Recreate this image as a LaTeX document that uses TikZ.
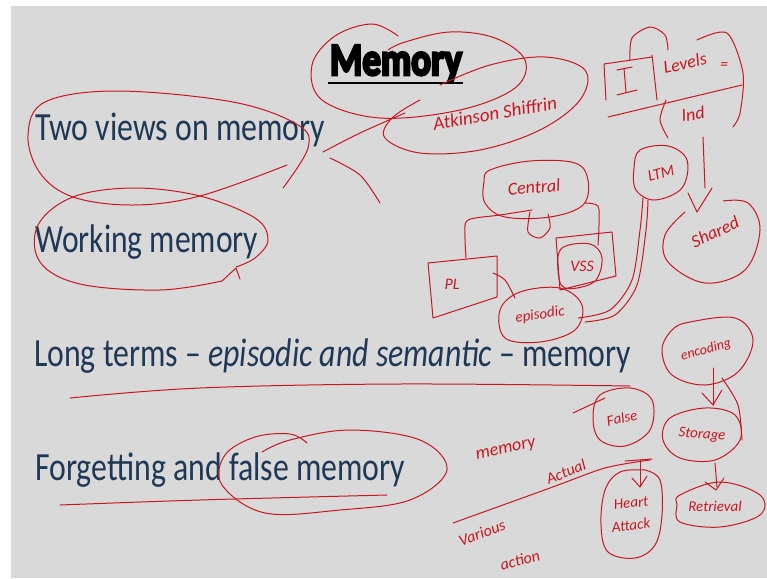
\documentclass[tikz,border=0pt]{standalone}
\usepackage{fontspec}
\usepackage{graphicx}
\setmainfont{Carlito}
\newfontfamily\titlefont[FakeBold=6]{Carlito}
\newfontfamily\handfont{Carlito}
\definecolor{slidegray}{RGB}{217,217,217}
\definecolor{slidetext}{RGB}{31,56,86}
\definecolor{inkred}{RGB}{198,24,34}
% squeeze a text to a given width, keeping its height
\newcommand\fitw[2]{\resizebox{#1pt}{\height}{#2}}
\tikzset{
  bullet/.style={text=slidetext, inner sep=0pt, anchor=base west,
    font=\fontsize{40}{48}\selectfont},
  ink/.style={draw=inkred, line width=1pt, line cap=round, line join=round},
  scrawl/.style={text=inkred, inner sep=0pt, font=\handfont\itshape\fontsize{16}{18}\selectfont},
}
\begin{document}
\begin{tikzpicture}[x=1pt, y=-1pt]
\useasboundingbox (0,0) rectangle (767,578);
\fill[white] (0,0) rectangle (767,578);
\fill[slidegray] (11,6) rectangle (767,578);

% slide title and items
\node[text=black, inner sep=0pt, anchor=base, font=\titlefont\bfseries\fontsize{46}{50}\selectfont]
  (title) at (396,75) {\fitw{132}{Memory}};
\draw[line width=2pt] ([xshift=-2pt,yshift=-8pt]title.base west) -- ([xshift=1pt,yshift=-8pt]title.base east);
\node[bullet] (views) at (35,140) {\fitw{290}{Two views on memory}};
\node[bullet] (working) at (35,252) {\fitw{223}{Working memory}};
\node[bullet] (longterm) at (34,366) {\fitw{597}{Long terms -- \textit{episodic and semantic} -- memory}};
\node[bullet] (forget) at (35,480) {\fitw{370}{Forgetting and false memory}};

% ---- ink on the first two items
\draw[ink] plot[smooth, tension=0.6] coordinates {(287,165) (200,196) (133,205) (73,197) (40,173) (28,135) (45,102) (117,91) (233,102) (298,125) (308,148) (283,188)};
\draw[ink] plot[smooth, tension=0.6] coordinates {(236,267) (255,258) (268,240) (255,218) (200,196) (133,188) (73,197) (38,225) (40,262) (80,284) (160,290) (222,281)};
\draw[ink] (222,281) -- (236,268) -- (240,279);

% ---- ink round the title
\draw[ink] plot[smooth, tension=0.6] coordinates {(398,36) (372,24) (335,36) (312,65) (322,100) (380,118) (460,110) (515,88) (525,60) (495,38) (450,32) (405,42) (388,50)};
\draw[ink] plot[smooth, tension=0.6] coordinates {(440,85) (490,65) (545,57) (585,70) (580,100) (540,130) (480,150) (420,153) (385,138) (392,118) (420,100)};
\node[scrawl, rotate=10, font=\handfont\itshape\fontsize{19}{20}\selectfont] (atkinson) at (495,113) {Atkinson Shiffrin};
\draw[ink] plot[smooth] coordinates {(323,152) (360,133) (405,113)};
\draw[ink] plot[smooth] coordinates {(330,158) (360,175) (380,203)};

% ---- levels cluster, top right
\draw[ink] (606,100) -- (604,64) -- (652,57);
\draw[ink] (652,55) -- (657,100);
\draw[ink] (608,117) -- (742,85);
\draw[ink] plot[smooth] coordinates {(630,60) (632,38) (650,27) (665,35) (668,50)};
\draw[ink] plot[smooth] coordinates {(697,40) (727,33) (743,73) (740,113) (733,127)};
\draw[ink] (617,70) -- (632,67) (624,68) -- (626,92) (617,95) -- (637,90);
\node[scrawl, rotate=12, font=\handfont\itshape\fontsize{18}{20}\selectfont] (levels) at (685,63) {Levels};
\node[scrawl] (eqmark) at (724,66) {=};
\draw[ink] plot[smooth] coordinates {(666,100) (660,120) (668,138)};
\node[scrawl, rotate=8, font=\handfont\itshape\fontsize{18}{20}\selectfont] (ind) at (693,114) {Ind};
\draw[ink] (703,137) -- (705,188);
\draw[ink] (688,193) -- (697,212) -- (712,188);
\draw[ink] plot[smooth, tension=0.6] coordinates {(723,201) (748,203) (760,230) (745,270) (705,283) (668,262) (665,235) (685,212)};
\node[scrawl, rotate=25, font=\handfont\itshape\fontsize{18}{20}\selectfont] (shared) at (715,232) {Shared};

% ---- working memory model
\draw[ink] plot[smooth cycle, tension=0.6] coordinates {(490,170) (530,161) (575,163) (588,180) (583,205) (550,217) (505,217) (485,203) (484,182)};
\node[scrawl, rotate=5, font=\handfont\itshape\fontsize{18}{20}\selectfont] (central) at (534,187) {Central};
\draw[ink] plot[smooth] coordinates {(530,212) (528,232) (540,238) (550,228) (548,214)};
\draw[ink] plot[smooth] coordinates {(532,210) (500,215) (468,220) (465,235) (466,258)};
\draw[ink] plot[smooth] coordinates {(585,203) (598,206) (599,225) (598,245)};
\draw[ink] (428,263) -- (497,256) -- (497,297) -- (433,318) -- cycle;
\node[scrawl] (pl) at (452,284) {PL};
\draw[ink] plot[smooth] coordinates {(493,273) (505,280) (515,298)};
\draw[ink] (556,238) -- (612,232) -- (616,276) -- (560,290) -- cycle;
\draw[ink] plot[smooth cycle, tension=0.6] coordinates {(562,248) (590,244) (602,258) (594,282) (565,288) (558,270)};
\node[scrawl] (vss) at (582,266) {VSS};
\draw[ink] plot[smooth cycle, tension=0.6] coordinates {(500,310) (520,292) (560,288) (582,305) (575,330) (540,342) (505,338)};
\node[scrawl, rotate=8, font=\handfont\itshape\fontsize{15}{16}\selectfont] (episodic) at (540,315) {episodic};
\draw[ink] plot[smooth] coordinates {(578,318) (610,310) (632,280) (640,230) (643,198)};
\draw[ink] plot[smooth] coordinates {(585,322) (615,315) (637,285) (646,230) (648,200)};
\draw[ink] plot[smooth cycle, tension=0.6] coordinates {(640,150) (668,146) (687,160) (682,188) (655,200) (636,190) (634,168)};
\node[scrawl, rotate=15] (ltm) at (661,173) {LTM};

% ---- encoding, storage, retrieval
\draw[ink] plot[smooth cycle, tension=0.6] coordinates {(690,322) (735,318) (753,340) (738,372) (705,385) (672,375) (662,350) (672,330)};
\node[scrawl, rotate=15, font=\handfont\itshape\fontsize{14}{16}\selectfont] (encoding) at (706,350) {encoding};
\draw[ink] (713,368) -- (713,405);
\draw[ink] (702,393) -- (713,405) -- (722,390);
\draw[ink] plot[smooth] coordinates {(722,378) (738,405) (742,440)};
\draw[ink] plot[smooth cycle, tension=0.6] coordinates {(670,418) (705,408) (735,415) (740,440) (715,460) (680,458) (663,440)};
\node[scrawl, rotate=-5, font=\handfont\itshape\fontsize{15}{16}\selectfont] (storage) at (702,435) {Storage};
\draw[ink] (715,463) -- (717,487);
\draw[ink] (705,482) -- (716,490) -- (724,478);
\draw[ink] plot[smooth cycle, tension=0.6] coordinates {(680,495) (720,482) (760,495) (760,515) (720,527) (680,522) (677,505)};
\node[scrawl, font=\handfont\itshape\fontsize{15}{16}\selectfont] (retrieval) at (715,506) {Retrieval};

% ---- ink on the last two items
\draw[ink] plot[smooth, tension=0.6] coordinates {(70,398) (200,388) (400,384) (630,386)};
\draw[ink] plot[smooth, tension=0.6] coordinates {(60,505) (200,500) (387,495)};
\draw[ink] plot[smooth, tension=0.6] coordinates {(307,443) (290,434) (255,437) (225,455) (222,485) (265,513) (340,510) (410,500) (447,470) (420,440) (350,430) (290,440) (262,452)};

% ---- false memory notes
\node[scrawl, rotate=12, font=\handfont\itshape\fontsize{18}{20}\selectfont] (memnote) at (506,450) {memory};
\draw[ink] plot[smooth cycle, tension=0.6] coordinates {(600,395) (630,388) (652,400) (650,430) (625,446) (600,440) (593,418)};
\node[scrawl, rotate=12, font=\handfont\itshape\fontsize{15}{16}\selectfont] (falsenote) at (622,418) {False};
\draw[ink] (573,413) -- (605,398);
\node[scrawl, rotate=22] (actual) at (566,472) {Actual};
\draw[ink] plot[smooth] coordinates {(453,523) (550,488) (605,468) (650,460)};
\draw[ink] (625,461) -- (652,459);
\node[scrawl, rotate=20] (various) at (482,533) {Various};
\node[scrawl, rotate=15] (action) at (520,560) {action};
\draw[ink] plot[smooth, tension=0.6] coordinates {(645,470) (660,480) (662,515) (655,545) (635,558) (608,552) (601,525) (605,490) (620,472) (645,470)};
\draw[ink] (640,460) -- (640,486);
\draw[ink] (632,478) -- (640,487) -- (647,476);
\node[scrawl, rotate=6, font=\handfont\itshape\fontsize{15}{16}\selectfont] (heart) at (631,503) {Heart};
\node[scrawl, rotate=6, font=\handfont\itshape\fontsize{15}{16}\selectfont] (attack) at (631,525) {Attack};
\end{tikzpicture}
\end{document}
